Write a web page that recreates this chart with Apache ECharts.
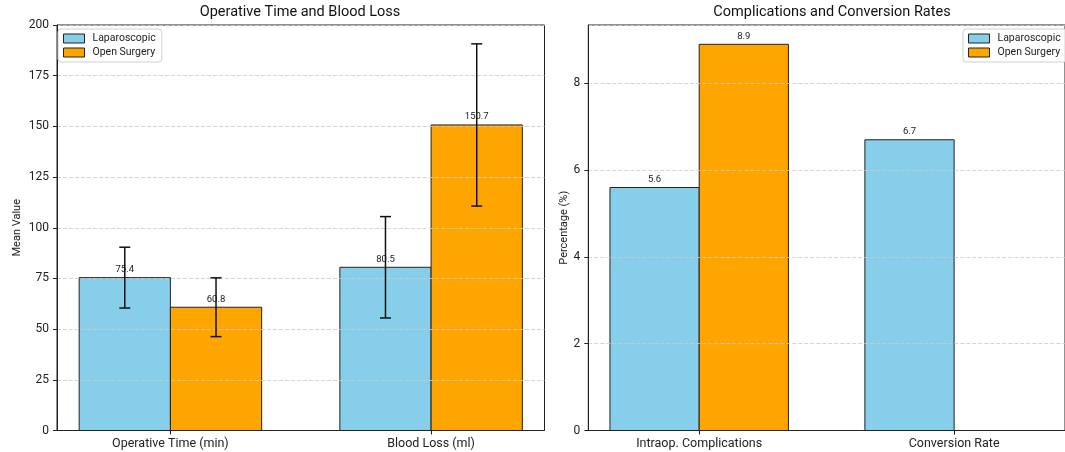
<!DOCTYPE html>
<html>
<head>
<meta charset="utf-8">
<script src="https://cdn.jsdelivr.net/npm/echarts@6/dist/echarts.min.js"></script>
<style>
html,body{margin:0;padding:0;background:#fff;}
#chart{width:1065px;height:452px;}
</style>
</head>
<body>
<div id="chart"></div>
<script>
// ---- data ----
const seriesNames = ['Laparoscopic', 'Open Surgery'];
const categoriesLeft = ['Operative Time (min)', 'Blood Loss (ml)'];
const lapLeft = [75.4, 80.5];
const lapLeftErr = [15, 25];
const openLeft = [60.8, 150.7];
const openLeftErr = [14.5, 40];
const categoriesRight = ['Intraop. Complications', 'Conversion Rate'];
const lapRight = [5.6, 6.7];
const openRight = [8.9, 0];
const leftTicks = [0, 25, 50, 75, 100, 125, 150, 175, 200];
const rightTicks = [0, 2, 4, 6, 8];

const FONT = 'Roboto, "DejaVu Sans", sans-serif';
const COL_LAP = '#87CEEB';
const COL_OPEN = '#FFA500';
const BAR_W = 0.35;

function toData(vals, errs) {
  return vals.map((v, i) => [i, v, errs ? errs[i] : 0]);
}

function barRender(side, color) {
  return function (params, api) {
    const i = api.value(0), v = api.value(1);
    const x0 = side < 0 ? i - BAR_W : i;
    const p0 = api.coord([x0, 0]);
    const p1 = api.coord([x0 + BAR_W, v]);
    return {
      type: 'rect',
      shape: { x: p0[0], y: p1[1], width: p1[0] - p0[0], height: p0[1] - p1[1] },
      style: { fill: color, stroke: '#222', lineWidth: 1 }
    };
  };
}

function errRender(side) {
  return function (params, api) {
    const i = api.value(0), v = api.value(1), e = api.value(2);
    const cx = i + side * BAR_W / 2;
    const children = [];
    const top = api.coord([cx, v]);
    if (v > 0) {
      children.push({
        type: 'text',
        z2: 1,
        style: {
          x: top[0], y: top[1] - 3, text: v.toFixed(1),
          align: 'center', verticalAlign: 'bottom',
          fontSize: 9.5, fontFamily: FONT, fill: '#222'
        }
      });
    }
    if (e > 0) {
      const a = api.coord([cx, v + e]);
      const b = api.coord([cx, v - e]);
      const ls = { stroke: '#111', lineWidth: 1.5 };
      children.push({ type: 'line', z2: 2, shape: { x1: a[0], y1: a[1], x2: b[0], y2: b[1] }, style: ls });
      children.push({ type: 'line', z2: 2, shape: { x1: a[0] - 5.5, y1: a[1], x2: a[0] + 5.5, y2: a[1] }, style: ls });
      children.push({ type: 'line', z2: 2, shape: { x1: b[0] - 5.5, y1: b[1], x2: b[0] + 5.5, y2: b[1] }, style: ls });
    }
    return { type: 'group', children: children };
  };
}

function xAxisDef(gridIndex, cats) {
  return {
    type: 'value', gridIndex: gridIndex, min: -0.435, max: 1.435,
    z: 4,
    splitLine: { show: false },
    axisLine: { show: true, onZero: false, lineStyle: { color: '#222', width: 1 } },
    axisTick: { show: true, customValues: [0, 1], length: 4, lineStyle: { color: '#222' } },
    axisLabel: {
      customValues: [0, 1], margin: 7, fontSize: 12.5, fontFamily: FONT, color: '#222',
      formatter: v => cats[Math.round(v)]
    }
  };
}

function yAxisDef(gridIndex, max, interval, name, nameGap) {
  return {
    type: 'value', gridIndex: gridIndex, min: 0, max: max, interval: interval,
    z: 3,
    name: name, nameLocation: 'middle', nameGap: nameGap,
    nameTextStyle: { fontSize: 11, fontFamily: FONT, color: '#222' },
    axisLine: { show: true, onZero: false, lineStyle: { color: '#222', width: 1 } },
    axisTick: { show: true, length: 4, lineStyle: { color: '#222' } },
    axisLabel: { fontSize: 12, fontFamily: FONT, color: '#222', margin: 8, showMaxLabel: max === 200 },
    splitLine: { show: true, lineStyle: { color: '#cccccc', width: 0.8, type: [4, 2] } }
  };
}

function legendDef(left) {
  return {
    orient: 'vertical', left: left, top: 29,
    data: seriesNames,
    icon: 'rect', itemWidth: 21, itemHeight: 9, itemGap: 3,
    padding: [4, 6, 4, 5],
    backgroundColor: 'rgba(255,255,255,0.8)', borderColor: '#d0d0d0', borderWidth: 1, borderRadius: 3,
    itemStyle: { borderColor: '#222', borderWidth: 1 },
    textStyle: { fontSize: 10.5, fontFamily: FONT, color: '#222', padding: [0, 0, 0, 3] },
    selectedMode: false
  };
}

const chart = echarts.init(document.getElementById('chart'));
chart.setOption({
  animation: false,
  backgroundColor: '#fff',
  title: [
    { text: 'Operative Time and Blood Loss', left: 300, textAlign: 'center', top: 5, padding: 0,
      textStyle: { fontSize: 14.5, fontWeight: 'normal', fontFamily: FONT, color: '#111' } },
    { text: 'Complications and Conversion Rates', left: 832, textAlign: 'center', top: 5, padding: 0,
      textStyle: { fontSize: 14.5, fontWeight: 'normal', fontFamily: FONT, color: '#111' } }
  ],
  legend: [legendDef(58), legendDef(963)],
  grid: [
    { left: 57, top: 25, width: 487.5, height: 405.5, show: true, borderColor: '#222', borderWidth: 1, backgroundColor: 'transparent' },
    { left: 588.3, top: 25, width: 487.5, height: 405.5, show: true, borderColor: '#222', borderWidth: 1, backgroundColor: 'transparent' }
  ],
  xAxis: [xAxisDef(0, categoriesLeft), xAxisDef(1, categoriesRight)],
  yAxis: [
    yAxisDef(0, 200, 25, 'Mean Value', 34),
    yAxisDef(1, 9.345, 2, 'Percentage (%)', 17)
  ],
  series: [
    { type: 'custom', name: seriesNames[0], xAxisIndex: 0, yAxisIndex: 0, z: 1, itemStyle: { color: COL_LAP },
      renderItem: barRender(-1, COL_LAP), data: toData(lapLeft, lapLeftErr) },
    { type: 'custom', name: seriesNames[1], xAxisIndex: 0, yAxisIndex: 0, z: 1, itemStyle: { color: COL_OPEN },
      renderItem: barRender(1, COL_OPEN), data: toData(openLeft, openLeftErr) },
    { type: 'custom', name: seriesNames[0], xAxisIndex: 1, yAxisIndex: 1, z: 1, itemStyle: { color: COL_LAP },
      renderItem: barRender(-1, COL_LAP), data: toData(lapRight, null) },
    { type: 'custom', name: seriesNames[1], xAxisIndex: 1, yAxisIndex: 1, z: 1, itemStyle: { color: COL_OPEN },
      renderItem: barRender(1, COL_OPEN), data: toData(openRight, null) },
    { type: 'custom', name: seriesNames[0], xAxisIndex: 0, yAxisIndex: 0, z: 5, itemStyle: { color: COL_LAP },
      renderItem: errRender(-1), data: toData(lapLeft, lapLeftErr) },
    { type: 'custom', name: seriesNames[1], xAxisIndex: 0, yAxisIndex: 0, z: 5, itemStyle: { color: COL_OPEN },
      renderItem: errRender(1), data: toData(openLeft, openLeftErr) },
    { type: 'custom', name: seriesNames[0], xAxisIndex: 1, yAxisIndex: 1, z: 5, itemStyle: { color: COL_LAP },
      renderItem: errRender(-1), data: toData(lapRight, null) },
    { type: 'custom', name: seriesNames[1], xAxisIndex: 1, yAxisIndex: 1, z: 5, itemStyle: { color: COL_OPEN },
      renderItem: errRender(1), data: toData(openRight, null) }
  ]
});
</script>
</body>
</html>
